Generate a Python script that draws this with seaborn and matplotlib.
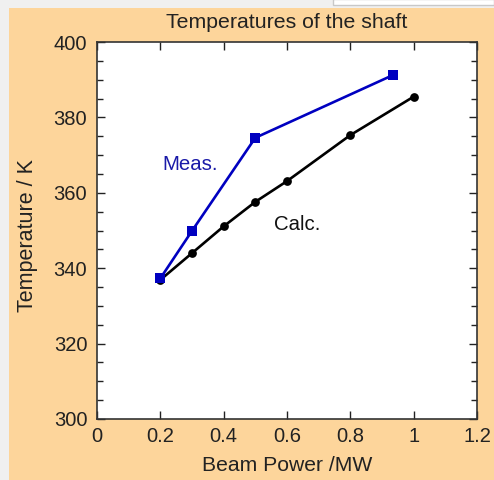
import matplotlib
matplotlib.use("Agg")
import matplotlib.pyplot as plt
import seaborn as sns
import pandas as pd
from matplotlib.patches import Rectangle
from matplotlib.ticker import MultipleLocator

# Data
meas_power = [0.2, 0.3, 0.5, 0.934]
meas_temp = [337.3, 349.9, 374.6, 391.2]
calc_power = [0.2, 0.3, 0.4, 0.5, 0.6, 0.8, 1.0]
calc_temp = [336.9, 344.0, 351.1, 357.6, 363.1, 375.3, 385.5]
x_ticks = [0, 0.2, 0.4, 0.6, 0.8, 1, 1.2]
x_tick_labels = ["0", "0.2", "0.4", "0.6", "0.8", "1", "1.2"]
y_ticks = [300, 320, 340, 360, 380, 400]

sns.set_style("ticks")
plt.rcParams['font.family'] = ['Liberation Sans', 'DejaVu Sans']

fig = plt.figure(figsize=(4.94, 4.80), dpi=100)
fig.patch.set_facecolor('#f0f0f0')
W, H = 494, 480
# orange panel
fig.patches.append(Rectangle((9 / W, 0), 1 - 9 / W, 1 - 8 / H, transform=fig.transFigure,
                             facecolor='#fdd59b', edgecolor='none', zorder=-10))
# white box top right
fig.patches.append(Rectangle((333 / W, 1 - 5 / H), 1 - 333 / W, 6 / H, transform=fig.transFigure,
                             facecolor='white', edgecolor='#c8c8c8', linewidth=1, zorder=-10))

ax = fig.add_axes([97 / W, 61 / H, 380 / W, 377 / H])
ax.set_facecolor('white')

df_meas = pd.DataFrame({'power': meas_power, 'temp': meas_temp})
df_calc = pd.DataFrame({'power': calc_power, 'temp': calc_temp})

sns.lineplot(data=df_calc, x='power', y='temp', ax=ax, color='black', linewidth=1.9,
             marker='o', markersize=6.3, markeredgewidth=0, zorder=3)
sns.lineplot(data=df_meas, x='power', y='temp', ax=ax, color='#0000c0', linewidth=1.9,
             marker='s', markersize=7.2, markeredgewidth=0, zorder=4)

ax.set_xlim(0, 1.2)
ax.set_ylim(300, 400)
ax.set_xticks(x_ticks)
ax.set_xticklabels(x_tick_labels)
ax.set_yticks(y_ticks)
ax.yaxis.set_minor_locator(MultipleLocator(5))

ax.tick_params(which='both', direction='in', top=True, right=True, labelsize=14.5,
               colors='#222222', width=1)
ax.tick_params(which='major', length=6)
ax.tick_params(axis='y', which='major', pad=7)
ax.tick_params(axis='x', which='major', pad=6)
ax.tick_params(which='minor', length=4)
for s in ax.spines.values():
    s.set_visible(True)
    s.set_color('#333333')
    s.set_linewidth(1.2)

ax.set_xlabel('Beam Power /MW', fontsize=15.2, color='#222222', labelpad=7)
ax.set_ylabel('Temperature / K', fontsize=15.5, color='#222222')
ax.yaxis.set_label_coords(-0.154, 0.487)
ax.set_title('Temperatures of the shaft', fontsize=15.3, color='#222222', pad=10)

ax.text(0.208, 367.4, 'Meas.', color='#1a1aa8', fontsize=14.7, va='center', ha='left')
ax.text(0.559, 351.7, 'Calc.', color='#111111', fontsize=14.7, va='center', ha='left')

fig.savefig('out.png', dpi=100, facecolor=fig.get_facecolor())
